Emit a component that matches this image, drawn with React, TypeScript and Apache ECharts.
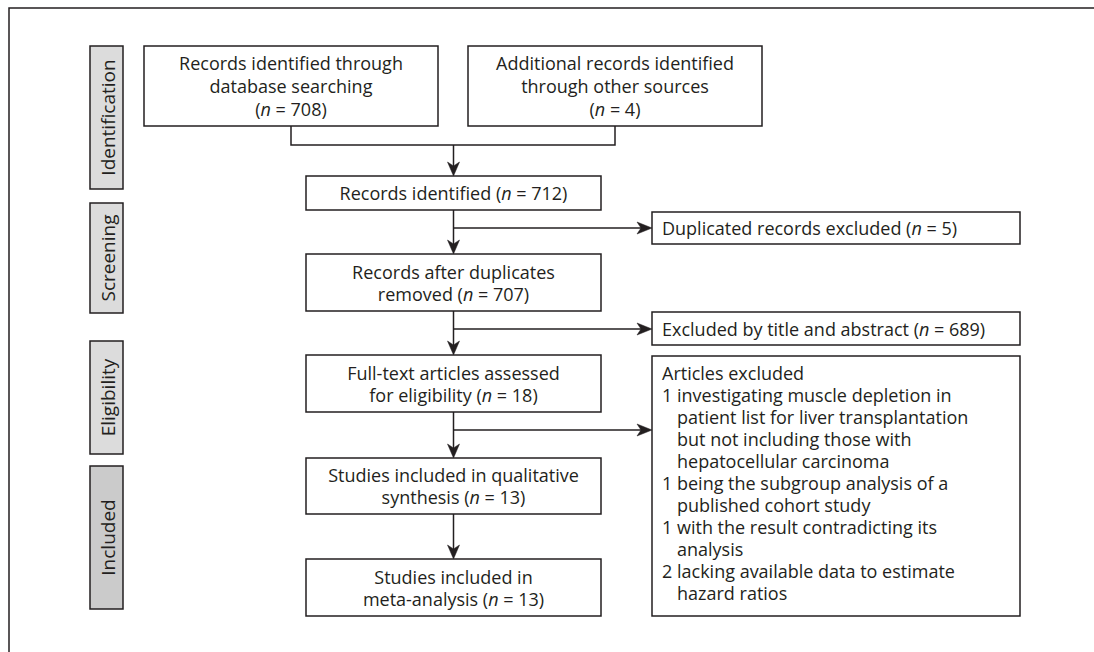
import React, { useEffect, useRef } from "react";
import * as echarts from "echarts";

// ---- Content (texts and counts) ----
const stageLabels = ["Identification", "Screening", "Eligibility", "Included"];

const sourceBoxTexts: string[][] = [
  ["Records identified through", "database searching", "({i|n} = 708)"],
  ["Additional records identified", "through other sources", "({i|n} = 4)"],
];

const mainStepTexts: string[][] = [
  ["Records identified ({i|n} = 712)"],
  ["Records after duplicates", "removed ({i|n} = 707)"],
  ["Full-text articles assessed", "for eligibility ({i|n} = 18)"],
  ["Studies included in qualitative", "synthesis ({i|n} = 13)"],
  ["Studies included in", "meta-analysis ({i|n} = 13)"],
];

const exclusionTexts: string[] = [
  "Duplicated records excluded ({i|n} = 5)",
  "Excluded by title and abstract ({i|n} = 689)",
];

const articlesHeader = "Articles excluded";
const articlesCounts = ["1", "1", "1", "2"];
const articlesReasons: string[][] = [
  [
    "investigating muscle depletion in",
    "patient list for liver transplantation",
    "but not including those with",
    "hepatocellular carcinoma",
  ],
  ["being the subgroup analysis of a", "published cohort study"],
  ["with the result contradicting its", "analysis"],
  ["lacking available data to estimate", "hazard ratios"],
];

// ---- Styles ----
const INK = "#231f20";
const FONT = '"Open Sans", "Noto Sans", sans-serif';
const FS = 18;
const LW = 1.5;

function textBlock(lines: string[], x: number, y: number, align: string, lh: number) {
  return {
    type: "text",
    silent: true,
    style: {
      text: lines.join("\n"),
      x,
      y,
      align,
      verticalAlign: "middle",
      fontSize: FS,
      fontFamily: FONT,
      fill: INK,
      lineHeight: lh,
      rich: {
        i: { fontStyle: "italic", fontSize: FS, fontFamily: FONT, fill: INK, lineHeight: lh },
        p: { fontSize: FS, fontFamily: FONT, fill: INK, lineHeight: lh, padding: [0, 0, 0, 15] },
      },
    },
  };
}

function rectEl(x1: number, y1: number, x2: number, y2: number, fill = "#ffffff") {
  return {
    type: "rect",
    silent: true,
    shape: { x: x1, y: y1, width: x2 - x1, height: y2 - y1 },
    style: { fill, stroke: INK, lineWidth: LW },
  };
}

function lineEl(pts: number[][]) {
  return {
    type: "polyline",
    silent: true,
    shape: { points: pts },
    style: { fill: "none", stroke: INK, lineWidth: LW },
  };
}

function arrowDown(x: number, y: number) {
  return {
    type: "polygon",
    silent: true,
    shape: { points: [[x - 6, y - 14], [x, y - 10], [x + 6, y - 14], [x, y]] },
    style: { fill: INK, stroke: INK, lineWidth: 0.5 },
  };
}

function arrowRight(x: number, y: number) {
  return {
    type: "polygon",
    silent: true,
    shape: { points: [[x - 15, y - 6], [x - 11, y], [x - 15, y + 6], [x, y]] },
    style: { fill: INK, stroke: INK, lineWidth: 0.5 },
  };
}

function buildElements() {
  const els: any[] = [];

  // frame
  els.push(lineEl([[9, 652], [9, 8], [1094, 8]]));

  // stage labels
  const stageY = [[46, 189], [203, 313], [341, 454], [466, 609]];
  const stageFill = ["#dcdcdc", "#dcdcdc", "#dcdcdc", "#cbcbcb"];
  stageLabels.forEach((lab, i) => {
    const [y1, y2] = stageY[i];
    els.push(rectEl(90, y1, 123, y2, stageFill[i]));
    els.push({
      type: "text",
      silent: true,
      x: 107.5,
      y: (y1 + y2) / 2,
      rotation: Math.PI / 2,
      style: {
        text: lab,
        x: 0,
        y: 0,
        align: "center",
        verticalAlign: "middle",
        fontSize: 19,
        fontFamily: FONT,
        fill: INK,
        lineHeight: 22,
      },
    });
  });

  // source boxes
  const srcX = [[144, 438], [468, 762]];
  const srcY = [46, 126];
  sourceBoxTexts.forEach((lines, i) => {
    const [x1, x2] = srcX[i];
    els.push(rectEl(x1, srcY[0], x2, srcY[1]));
    els.push(textBlock(lines, (x1 + x2) / 2, (srcY[0] + srcY[1]) / 2, "center", 23));
  });

  // main column
  const mx1 = 306, mx2 = 601, mcx = 453.5;
  const mainY = [[176, 210], [254, 311], [355, 412], [458, 514], [559, 616]];
  mainStepTexts.forEach((lines, i) => {
    const [y1, y2] = mainY[i];
    els.push(rectEl(mx1, y1, mx2, y2));
    els.push(textBlock(lines, mcx, (y1 + y2) / 2, "center", 22));
  });

  // source connector
  const c1 = (srcX[0][0] + srcX[0][1]) / 2;
  const c2 = (srcX[1][0] + srcX[1][1]) / 2;
  els.push(lineEl([[c1, srcY[1]], [c1, 145], [c2, 145], [c2, srcY[1]]]));
  els.push(lineEl([[mcx, 145], [mcx, mainY[0][0] - 8]]));
  els.push(arrowDown(mcx, mainY[0][0]));

  // right column
  const rx1 = 652, rx2 = 1020;
  const rightY = [[212, 244], [312, 345]];
  const branchY = [228, 329, 430];
  exclusionTexts.forEach((t, i) => {
    const [y1, y2] = rightY[i];
    els.push(rectEl(rx1, y1, rx2, y2));
    els.push(textBlock([t], 662, (y1 + y2) / 2, "left", 22));
  });

  // articles excluded box
  const ay1 = 356, ay2 = 616;
  els.push(rectEl(rx1, ay1, rx2, ay2));
  const aLines: string[] = [articlesHeader];
  articlesReasons.forEach((lines, i) => {
    lines.forEach((t, k) => {
      aLines.push(k === 0 ? `${articlesCounts[i]} ${t}` : `{p|${t}}`);
    });
  });
  const alh = 22;
  const firstY = 373;
  const centerY = firstY + ((aLines.length - 1) * alh) / 2;
  els.push(textBlock(aLines, 662, centerY, "left", alh));

  // vertical arrows between main boxes + branches
  for (let i = 0; i < mainY.length - 1; i++) {
    const yb = mainY[i][1];
    const yt = mainY[i + 1][0];
    els.push(lineEl([[mcx, yb], [mcx, yt - 8]]));
    els.push(arrowDown(mcx, yt));
    if (i < branchY.length) {
      els.push(lineEl([[mcx, branchY[i]], [rx1 - 8, branchY[i]]]));
      els.push(arrowRight(rx1, branchY[i]));
    }
  }

  return els;
}

export default function App() {
  const ref = useRef<HTMLDivElement>(null);
  useEffect(() => {
    if (!ref.current) return;
    const chart = echarts.init(ref.current, null, { renderer: "svg" });
    chart.setOption({
      animation: false,
      backgroundColor: "#ffffff",
      graphic: { elements: buildElements() },
    });
    return () => chart.dispose();
  }, []);
  return (
    <div
      ref={ref}
      style={{ position: "fixed", left: 0, top: 0, width: 1094, height: 652, background: "#fff" }}
    />
  );
}
